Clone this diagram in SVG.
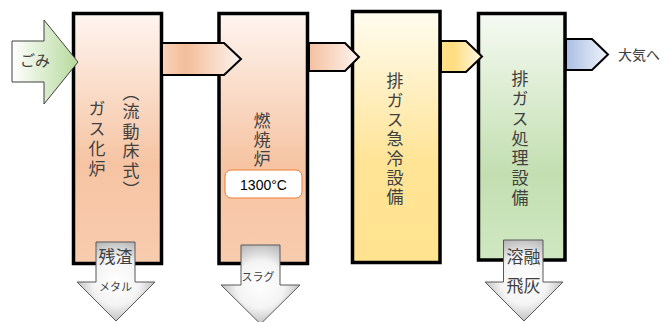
<svg xmlns="http://www.w3.org/2000/svg" width="670" height="322" viewBox="0 0 670 322">
<defs>
<style>
.box{stroke:#000;stroke-width:3.5}
.ra{stroke:#000;stroke-width:2}
.da{stroke:#595959;stroke-width:1;fill:url(#gGray)}
.t{font-family:"Noto Sans CJK JP","Noto Sans CJK SC",sans-serif;fill:#404040;text-anchor:middle}
.v{font-family:"Noto Sans CJK JP","Noto Sans CJK SC",sans-serif;fill:#404040;font-size:17px;writing-mode:vertical-rl;text-anchor:start}
</style>
<linearGradient id="gPeach" x1="0" y1="0" x2="0" y2="1">
<stop offset="0" stop-color="#fef5f0"/><stop offset="0.6" stop-color="#f6c4a3"/><stop offset="1" stop-color="#f8ccae"/>
</linearGradient>
<linearGradient id="gYellow" x1="0" y1="0" x2="0" y2="1">
<stop offset="0" stop-color="#fffcf0"/><stop offset="0.6" stop-color="#ffe496"/><stop offset="1" stop-color="#ffe38f"/>
</linearGradient>
<linearGradient id="gGreen" x1="0" y1="0" x2="0" y2="1">
<stop offset="0" stop-color="#f5faf2"/><stop offset="0.65" stop-color="#c3dfb1"/><stop offset="1" stop-color="#d0e8c2"/>
</linearGradient>
<linearGradient id="gGomi" x1="0" y1="0" x2="1" y2="0">
<stop offset="0" stop-color="#ffffff"/><stop offset="1" stop-color="#b6d99c"/>
</linearGradient>
<linearGradient id="gA1" x1="0" y1="0" x2="1" y2="0">
<stop offset="0" stop-color="#f8d3bb"/><stop offset="0.3" stop-color="#f4bd99"/><stop offset="1" stop-color="#fdf4ef"/>
</linearGradient>
<linearGradient id="gA2" x1="0" y1="0" x2="1" y2="0">
<stop offset="0" stop-color="#f4c09f"/><stop offset="1" stop-color="#fdf4ef"/>
</linearGradient>
<linearGradient id="gA3" x1="0" y1="0" x2="1" y2="0">
<stop offset="0" stop-color="#ffe08a"/><stop offset="0.3" stop-color="#ffdd80"/><stop offset="1" stop-color="#fff8e3"/>
</linearGradient>
<linearGradient id="gA4" x1="0" y1="0" x2="1" y2="0">
<stop offset="0" stop-color="#a9bee4"/><stop offset="1" stop-color="#f1f5fb"/>
</linearGradient>
<radialGradient id="gGray" cx="0.5" cy="0.5" r="0.6">
<stop offset="0" stop-color="#ffffff"/><stop offset="0.5" stop-color="#f4f4f4"/><stop offset="1" stop-color="#a8a8a8"/>
</radialGradient>
</defs>

<g id="node-gasifier">
<rect class="box" x="73.5" y="13.5" width="88" height="250" fill="url(#gPeach)"/>
<text class="v" x="97" y="100" letter-spacing="3">ガス化炉</text>
<text class="v" x="131" y="84" letter-spacing="2.5">（流動床式）</text>
</g>

<g id="node-combustor">
<rect class="box" x="219" y="13.5" width="88.5" height="250" fill="url(#gPeach)"/>
<text class="v" x="262" y="112.5" letter-spacing="2">燃焼炉</text>
<rect x="225" y="170" width="77" height="28" rx="6" fill="#fff" stroke="#ed7d31" stroke-width="1"/>
<text x="263.5" y="190" font-family="Liberation Sans,Arial,sans-serif" font-size="14" fill="#000" text-anchor="middle">1300°C</text>
</g>

<g id="node-quench">
<rect class="box" x="352.5" y="11.5" width="87.5" height="251" fill="url(#gYellow)"/>
<text class="v" x="395" y="72.5" letter-spacing="2.3">排ガス急冷設備</text>
</g>

<g id="node-treatment">
<rect class="box" x="478.5" y="13.5" width="86.5" height="246.5" fill="url(#gGreen)"/>
<text class="v" x="520" y="70.5" letter-spacing="2.7">排ガス処理設備</text>
</g>

<g id="connectors">
<g id="in-gomi">
<path d="M12,41 H44 V20 L78,62 L44,104 V82 H12 Z" fill="url(#gGomi)" stroke="#404040" stroke-width="1"/>
<text class="t" x="35" y="66" font-size="15">ごみ</text>
</g>
<path class="ra" d="M162,43 H224 L241,59 L224,75 H162 Z" fill="url(#gA1)"/>
<path class="ra" d="M309,43 H345 L359,57 L345,71 H309 Z" fill="url(#gA2)"/>
<path class="ra" d="M441,41 H466 L482,56.5 L466,72 H441 Z" fill="url(#gA3)"/>
<g id="out-air">
<path class="ra" d="M566,39 H592 L608,54.5 L592,70 H566 Z" fill="url(#gA4)"/>
<text class="t" x="639" y="60" font-size="14">大気へ</text>
</g>
<g id="out-residue">
<path class="da" d="M96,242 H135 V282 H155 L116,321 L77,282 H96 Z"/>
<text class="t" x="115.5" y="263" font-size="17">残渣</text>
<text class="t" x="115.5" y="291" font-size="11">メタル</text>
</g>
<g id="out-slag">
<path class="da" d="M241,245 H280 V285 H300 L260.5,324 L221,285 H241 Z"/>
<text class="t" x="258" y="281" font-size="11">スラグ</text>
</g>
<g id="out-fly">
<path class="da" d="M503.5,240 H543 V282 H563 L524,321 L485,282 H503.5 Z"/>
<text class="t" x="523.5" y="263" font-size="17">溶融</text>
<text class="t" x="523.5" y="292" font-size="17">飛灰</text>
</g>
</g>
</svg>
